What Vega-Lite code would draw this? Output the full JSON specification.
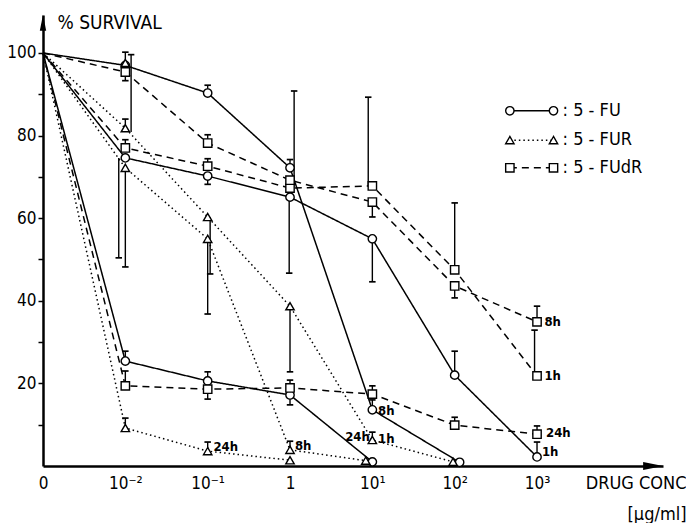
{
  "$schema": "https://vega.github.io/schema/vega-lite/v6.json",
  "width": 620,
  "height": 451,
  "autosize": {"type": "none"},
  "padding": {"left": 43, "top": 15, "right": 23, "bottom": 57},
  "background": "white",
  "config": {
    "view": {"stroke": null},
    "font": "DejaVu Sans Condensed",
    "axis": {
      "grid": false,
      "domainColor": "black",
      "domainWidth": 2.5,
      "tickColor": "black",
      "labelColor": "black",
      "titleColor": "black",
      "labelFont": "DejaVu Sans Condensed",
      "titleFont": "DejaVu Sans Condensed",
      "labelFontSize": 17,
      "titleFontSize": 18,
      "titleFontWeight": "normal"
    }
  },
  "datasets": {
    "main": [
      {"s": "FU1", "drug": "FU", "x": 0, "y": 100},
      {"s": "FU1", "drug": "FU", "x": 1, "y": 74.6},
      {"s": "FU1", "drug": "FU", "x": 2, "y": 70.2},
      {"s": "FU1", "drug": "FU", "x": 3, "y": 65.1},
      {"s": "FU1", "drug": "FU", "x": 4, "y": 55},
      {"s": "FU1", "drug": "FU", "x": 5, "y": 22},
      {"s": "FU1", "drug": "FU", "x": 6, "y": 2.2},
      {"s": "FU8", "drug": "FU", "x": 0, "y": 100},
      {"s": "FU8", "drug": "FU", "x": 1, "y": 97},
      {"s": "FU8", "drug": "FU", "x": 2, "y": 90.3},
      {"s": "FU8", "drug": "FU", "x": 3, "y": 72.2},
      {"s": "FU8", "drug": "FU", "x": 4, "y": 13.6},
      {"s": "FU8", "drug": "FU", "x": 5.06, "y": 0.9},
      {"s": "FU24", "drug": "FU", "x": 0, "y": 100},
      {"s": "FU24", "drug": "FU", "x": 1, "y": 25.4},
      {"s": "FU24", "drug": "FU", "x": 2, "y": 20.6},
      {"s": "FU24", "drug": "FU", "x": 3, "y": 17.2},
      {"s": "FU24", "drug": "FU", "x": 4, "y": 1.0},
      {"s": "FUR1", "drug": "FUR", "x": 0, "y": 100},
      {"s": "FUR1", "drug": "FUR", "x": 1, "y": 81.8},
      {"s": "FUR1", "drug": "FUR", "x": 2, "y": 60.3},
      {"s": "FUR1", "drug": "FUR", "x": 3, "y": 38.7},
      {"s": "FUR1", "drug": "FUR", "x": 4, "y": 6.3},
      {"s": "FUR1", "drug": "FUR", "x": 4.98, "y": 1.0},
      {"s": "FUR8", "drug": "FUR", "x": 0, "y": 100},
      {"s": "FUR8", "drug": "FUR", "x": 1, "y": 72.2},
      {"s": "FUR8", "drug": "FUR", "x": 2, "y": 55},
      {"s": "FUR8", "drug": "FUR", "x": 3, "y": 3.9},
      {"s": "FUR8", "drug": "FUR", "x": 3.92, "y": 1.3},
      {"s": "FUR24", "drug": "FUR", "x": 0, "y": 100},
      {"s": "FUR24", "drug": "FUR", "x": 1, "y": 9.2},
      {"s": "FUR24", "drug": "FUR", "x": 2, "y": 3.6},
      {"s": "FUR24", "drug": "FUR", "x": 3, "y": 1.4},
      {"s": "FURx", "drug": "FUR", "x": 1, "y": 97.6},
      {"s": "FUdR1", "drug": "FUdR", "x": 0, "y": 100},
      {"s": "FUdR1", "drug": "FUdR", "x": 1, "y": 77},
      {"s": "FUdR1", "drug": "FUdR", "x": 2, "y": 72.6},
      {"s": "FUdR1", "drug": "FUdR", "x": 3, "y": 67.3},
      {"s": "FUdR1", "drug": "FUdR", "x": 4, "y": 67.8},
      {"s": "FUdR1", "drug": "FUdR", "x": 5, "y": 47.5},
      {"s": "FUdR1", "drug": "FUdR", "x": 6, "y": 21.8},
      {"s": "FUdR8", "drug": "FUdR", "x": 0, "y": 100},
      {"s": "FUdR8", "drug": "FUdR", "x": 1, "y": 95.4},
      {"s": "FUdR8", "drug": "FUdR", "x": 2, "y": 78.2},
      {"s": "FUdR8", "drug": "FUdR", "x": 3, "y": 69.2},
      {"s": "FUdR8", "drug": "FUdR", "x": 4, "y": 63.9},
      {"s": "FUdR8", "drug": "FUdR", "x": 5, "y": 43.6},
      {"s": "FUdR8", "drug": "FUdR", "x": 6, "y": 34.9},
      {"s": "FUdR24", "drug": "FUdR", "x": 0, "y": 100},
      {"s": "FUdR24", "drug": "FUdR", "x": 1, "y": 19.4},
      {"s": "FUdR24", "drug": "FUdR", "x": 2, "y": 18.6},
      {"s": "FUdR24", "drug": "FUdR", "x": 3, "y": 18.9},
      {"s": "FUdR24", "drug": "FUdR", "x": 4, "y": 17.4},
      {"s": "FUdR24", "drug": "FUdR", "x": 5, "y": 9.9},
      {"s": "FUdR24", "drug": "FUdR", "x": 6, "y": 7.7}
    ],
    "err": [
      {"x": 1, "y": 97.6, "y2": 100.2},
      {"x": 1, "y": 95.4, "y2": 93.3},
      {"x": 1.07, "y": 80.9, "y2": 99.6},
      {"x": 1, "y": 81.8, "y2": 84},
      {"x": 1, "y": 77, "y2": 79},
      {"x": 0.92, "y": 74.6, "y2": 50.4},
      {"x": 1, "y": 72.2, "y2": 48.2},
      {"x": 1, "y": 25.4, "y2": 27.8},
      {"x": 1, "y": 19.4, "y2": 23},
      {"x": 1, "y": 9.2, "y2": 11.6},
      {"x": 2, "y": 90.3, "y2": 92.2},
      {"x": 2, "y": 78.2, "y2": 80.2},
      {"x": 2, "y": 72.6, "y2": 74.4},
      {"x": 2, "y": 70.2, "y2": 68.2},
      {"x": 2.03, "y": 60.3, "y2": 46.5},
      {"x": 2, "y": 55, "y2": 36.8},
      {"x": 2, "y": 20.6, "y2": 22.8},
      {"x": 2, "y": 20.6, "y2": 18.4},
      {"x": 2, "y": 18.6, "y2": 16.2},
      {"x": 2, "y": 3.6, "y2": 5.8},
      {"x": 3, "y": 72.2, "y2": 74.2},
      {"x": 3.05, "y": 68, "y2": 90.8},
      {"x": 2.99, "y": 65.1, "y2": 46.7},
      {"x": 3, "y": 38.7, "y2": 22.8},
      {"x": 3, "y": 18.9, "y2": 20.8},
      {"x": 3, "y": 17.2, "y2": 14.8},
      {"x": 3, "y": 3.9, "y2": 6},
      {"x": 3.95, "y": 67.8, "y2": 89.3},
      {"x": 4, "y": 63.9, "y2": 60.3},
      {"x": 4, "y": 55, "y2": 44.6},
      {"x": 4, "y": 17.4, "y2": 19.4},
      {"x": 4, "y": 13.6, "y2": 16},
      {"x": 4, "y": 6.3, "y2": 8.2},
      {"x": 5, "y": 47.5, "y2": 63.7},
      {"x": 5, "y": 43.6, "y2": 40.7},
      {"x": 5, "y": 22, "y2": 27.8},
      {"x": 5, "y": 9.9, "y2": 11.8},
      {"x": 6, "y": 34.9, "y2": 38.7},
      {"x": 5.97, "y": 21.8, "y2": 32.9},
      {"x": 6, "y": 7.7, "y2": 9.7},
      {"x": 6, "y": 2.2, "y2": 5.8}
    ],
    "lab": [
      {"x": 6.09, "y": 34.9, "t": "8h"},
      {"x": 6.09, "y": 21.8, "t": "1h"},
      {"x": 6.11, "y": 8.0, "t": "24h"},
      {"x": 6.06, "y": 3.4, "t": "1h"},
      {"x": 4.07, "y": 13.3, "t": "8h"},
      {"x": 4.07, "y": 6.5, "t": "1h"},
      {"x": 3.67, "y": 7.0, "t": "24h"},
      {"x": 3.06, "y": 4.8, "t": "8h"},
      {"x": 2.07, "y": 4.6, "t": "24h"}
    ],
    "leg": [
      {"drug": "FU", "x": 5.67, "y": 86},
      {"drug": "FU", "x": 6.2, "y": 86},
      {"drug": "FUR", "x": 5.67, "y": 78.9},
      {"drug": "FUR", "x": 6.2, "y": 78.9},
      {"drug": "FUdR", "x": 5.67, "y": 72.2},
      {"drug": "FUdR", "x": 6.2, "y": 72.2}
    ],
    "legtxt": [
      {"x": 6.31, "y": 86, "t": ": 5 - FU"},
      {"x": 6.31, "y": 78.9, "t": ": 5 - FUR"},
      {"x": 6.31, "y": 72.2, "t": ": 5 - FUdR"}
    ]
  },
  "encoding": {
    "x": {
      "field": "x",
      "type": "quantitative",
      "scale": {"domain": [0, 7.53], "nice": false, "zero": false},
      "axis": {
        "values": [0, 1, 2, 3, 4, 5, 6],
        "labelExpr": "['0','10⁻²','10⁻¹','1','10¹','10²','10³'][datum.value]",
        "ticks": false,
        "labelPadding": 9,
        "labelFlush": false,
        "labelOverlap": false,
        "title": ["DRUG CONC", "[µg/ml]"],
        "titleAlign": "right",
        "titleAnchor": null,
        "titleX": 643,
        "titleY": 8,
        "titleBaseline": "top",
        "titleLineHeight": 31
      }
    },
    "y": {
      "field": "y",
      "type": "quantitative",
      "scale": {"domain": [0, 109.2], "nice": false, "zero": false},
      "axis": {
        "values": [10, 20, 30, 40, 50, 60, 70, 80, 90, 100],
        "labelExpr": "datum.value % 20 == 0 ? datum.label : ''",
        "tickSize": 5,
        "tickWidth": 1.5,
        "labelPadding": 2,
        "title": "% SURVIVAL",
        "titleFontSize": 19,
        "titleAngle": 0,
        "titleAlign": "left",
        "titleAnchor": null,
        "titleBaseline": "middle",
        "titleX": 14,
        "titleY": 7
      }
    }
  },
  "layer": [
    {
      "data": {"name": "main"},
      "mark": {"type": "line", "color": "black", "strokeWidth": 1.5},
      "encoding": {
        "detail": {"field": "s"},
        "strokeDash": {
          "field": "drug",
          "type": "nominal",
          "scale": {"domain": ["FU", "FUR", "FUdR"], "range": [[1, 0], [1.5, 3], [7, 5]]},
          "legend": null
        }
      }
    },
    {
      "data": {"name": "leg"},
      "mark": {"type": "line", "color": "black", "strokeWidth": 1.5},
      "encoding": {
        "detail": {"field": "drug"},
        "strokeDash": {
          "field": "drug",
          "type": "nominal",
          "scale": {"domain": ["FU", "FUR", "FUdR"], "range": [[1, 0], [1.5, 3], [7, 5]]},
          "legend": null
        }
      }
    },
    {
      "data": {"name": "err"},
      "mark": {"type": "rule", "color": "black", "strokeWidth": 1.4},
      "encoding": {"y2": {"field": "y2"}}
    },
    {
      "data": {"name": "err"},
      "mark": {"type": "point", "shape": "M-1,0H1", "size": 42, "stroke": "black", "strokeWidth": 1.7, "filled": false, "opacity": 1},
      "encoding": {"y": {"field": "y2", "type": "quantitative"}}
    },
    {
      "data": {"name": "main"},
      "transform": [{"filter": "datum.x > 0"}],
      "mark": {"type": "point", "filled": true, "fill": "white", "stroke": "black", "strokeWidth": 1.4, "size": 70, "opacity": 1},
      "encoding": {
        "shape": {
          "field": "drug",
          "type": "nominal",
          "scale": {"domain": ["FU", "FUR", "FUdR"], "range": ["circle", "triangle-up", "square"]},
          "legend": null
        }
      }
    },
    {
      "data": {"name": "leg"},
      "mark": {"type": "point", "filled": true, "fill": "white", "stroke": "black", "strokeWidth": 1.4, "size": 70, "opacity": 1},
      "encoding": {
        "shape": {
          "field": "drug",
          "type": "nominal",
          "scale": {"domain": ["FU", "FUR", "FUdR"], "range": ["circle", "triangle-up", "square"]},
          "legend": null
        }
      }
    },
    {
      "data": {"name": "lab"},
      "mark": {"type": "text", "align": "left", "baseline": "middle", "font": "DejaVu Sans Condensed", "fontSize": 13, "fontWeight": "bold", "color": "black"},
      "encoding": {"text": {"field": "t"}}
    },
    {
      "data": {"name": "legtxt"},
      "mark": {"type": "text", "align": "left", "baseline": "middle", "font": "DejaVu Sans Condensed", "fontSize": 18, "color": "black"},
      "encoding": {"text": {"field": "t"}}
    },
    {
      "data": {"values": [{"x": 0, "y": 107.3}]},
      "mark": {"type": "point", "shape": "M0,-1L0.4,1L-0.4,1Z", "size": 256, "filled": true, "color": "black", "opacity": 1}
    },
    {
      "data": {"values": [{"x": 7.41, "y": 0}]},
      "mark": {"type": "point", "shape": "M1,0L-1,0.4L-1,-0.4Z", "size": 400, "filled": true, "color": "black", "opacity": 1}
    }
  ]
}
